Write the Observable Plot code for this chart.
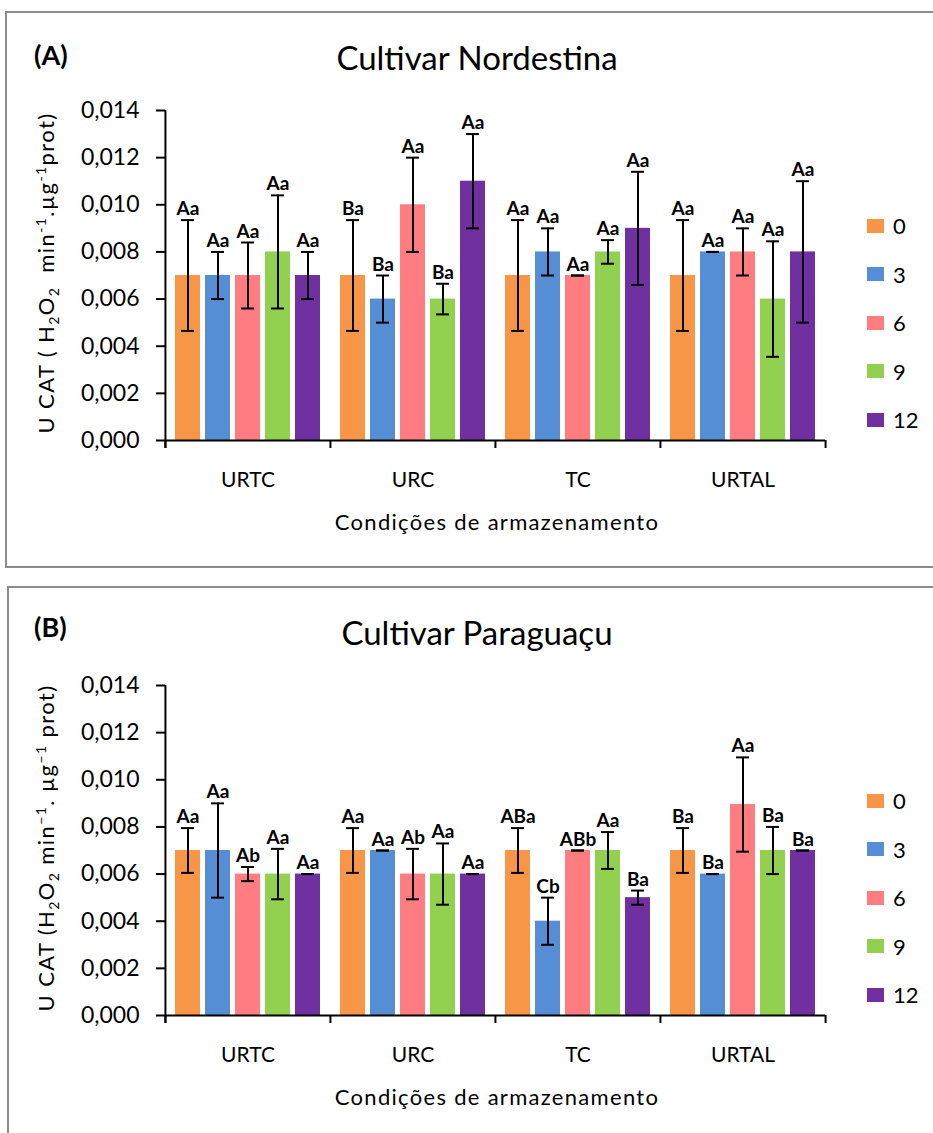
<!DOCTYPE html>
<html>
<head>
<meta charset="utf-8">
<script src="https://cdn.jsdelivr.net/npm/d3@7"></script>
<script src="https://cdn.jsdelivr.net/npm/@observablehq/plot@0.6"></script>
<style>
  html, body { margin: 0; padding: 0; background: #fff; }
  body { position: relative; width: 933px; height: 1133px; overflow: hidden; font-family: Lato, "Open Sans", sans-serif; color: #000; }
  .box { position: absolute; border: 2px solid #8c8c8c; box-sizing: border-box; }
  .abs { position: absolute; white-space: nowrap; }
  .title { font-size: 33px; transform: translate(-50%, -50%); }
  .xtitle { font-size: 22px; letter-spacing: 1.3px; transform: translate(-50%, -50%); }
  .ytitle { font-size: 22px; letter-spacing: 1.4px; transform: translate(-50%, -50%) rotate(-90deg); }
  .ytitle sub, .ytitle sup { font-size: 14px; }
  .leg { position: absolute; display: flex; align-items: center; font-size: 22px; }
  .leg span.sw { display: inline-block; width: 17px; height: 14px; margin-right: 9px; }
  .plotwrap { position: absolute; left: 0; }
</style>
</head>
<body>
<div class="box" style="left:5px; top:11px; width:1000px; height:557px;"></div>
<div class="box" style="left:7px; top:586px; width:1000px; height:600px;"></div>
<div id="root"></div>
<script>
// ---- data ----
const categories = ["URTC", "URC", "TC", "URTAL"];
const periods = ["0", "3", "6", "9", "12"];
const colors = ["#F79646", "#558ED5", "#FF7C80", "#92D050", "#7030A0"];

// Panel A – Cultivar Nordestina (values per category, in period order)
const nordMean = {
  URTC:  [0.007, 0.007, 0.007, 0.008, 0.007],
  URC:   [0.007, 0.006, 0.010, 0.006, 0.011],
  TC:    [0.007, 0.008, 0.007, 0.008, 0.009],
  URTAL: [0.007, 0.008, 0.008, 0.006, 0.008]
};
const nordErr = {
  URTC:  [0.00235, 0.001, 0.0014, 0.0024, 0.001],
  URC:   [0.00235, 0.001, 0.002, 0.00065, 0.002],
  TC:    [0.00235, 0.001, 0.0, 0.0005, 0.0024],
  URTAL: [0.00235, 0.0, 0.001, 0.00245, 0.003]
};
const nordLabels = {
  URTC:  ["Aa", "Aa", "Aa", "Aa", "Aa"],
  URC:   ["Ba", "Ba", "Aa", "Ba", "Aa"],
  TC:    ["Aa", "Aa", "Aa", "Aa", "Aa"],
  URTAL: ["Aa", "Aa", "Aa", "Aa", "Aa"]
};

// Panel B – Cultivar Paraguaçu
const paraMean = {
  URTC:  [0.007, 0.007, 0.006, 0.006, 0.006],
  URC:   [0.007, 0.007, 0.006, 0.006, 0.006],
  TC:    [0.007, 0.004, 0.007, 0.007, 0.005],
  URTAL: [0.007, 0.006, 0.00895, 0.007, 0.007]
};
const paraErr = {
  URTC:  [0.00095, 0.002, 0.0003, 0.00107, 0.0],
  URC:   [0.00095, 0.0, 0.00107, 0.0013, 0.0],
  TC:    [0.00095, 0.001, 0.0, 0.00078, 0.0003],
  URTAL: [0.00095, 0.0, 0.002, 0.001, 0.0]
};
const paraLabels = {
  URTC:  ["Aa", "Aa", "Ab", "Aa", "Aa"],
  URC:   ["Aa", "Aa", "Ab", "Aa", "Aa"],
  TC:    ["ABa", "Cb", "ABb", "Aa", "Ba"],
  URTAL: ["Ba", "Ba", "Aa", "Ba", "Ba"]
};

// ---- layout constants ----
const W = 933, H = 410, mTop = 20, mBottom = 60, mLeft = 164, mRight = 107;
const padIn = 0.18, padOut = 0.34;
const innerH = H - mTop - mBottom;
const facetW = (W - mLeft - mRight) / categories.length;
const step = facetW / (periods.length - padIn + 2 * padOut);
// distance from the centre of an edge band to the group edge
const edgeOffset = padOut * step + (1 - padIn) * step / 2;
const tickLen = 8;

function buildRows(mean, err, labels) {
  const rows = [];
  for (const c of categories) {
    periods.forEach((p, i) => {
      rows.push({cat: c, t: p, v: mean[c][i], e: err[c][i], lab: labels[c][i]});
    });
  }
  return rows;
}

function chart(rows) {
  const axisStyle = {stroke: "#000", strokeWidth: 2};
  const firstP = periods[0], lastP = periods[periods.length - 1];
  const firstC = categories[0], lastC = categories[categories.length - 1];
  return Plot.plot({
    width: W, height: H,
    marginTop: mTop, marginBottom: mBottom, marginLeft: mLeft, marginRight: mRight,
    style: {fontFamily: "Lato, 'Open Sans', sans-serif", color: "#000", background: "transparent"},
    fx: {domain: categories, padding: 0, label: null},
    x: {domain: periods, paddingInner: padIn, paddingOuter: padOut, axis: null},
    y: {domain: [0, 0.014], label: null},
    color: {domain: periods, range: colors},
    marks: [
      Plot.barY(rows, {fx: "cat", x: "t", y: "v", fill: "t"}),
      // x axis baseline
      Plot.ruleY([0], axisStyle),
      // y axis line (left edge of the first group, extending a tick below the baseline)
      Plot.ruleX(rows.filter(d => d.cat === firstC && d.t === firstP),
        {fx: "cat", x: "t", dx: -edgeOffset, insetBottom: -tickLen, ...axisStyle}),
      // category separator ticks (left edge of each group, right edge of the last)
      Plot.ruleX(rows.filter(d => d.t === firstP),
        {fx: "cat", x: "t", dx: -edgeOffset, insetTop: innerH, insetBottom: -tickLen, ...axisStyle}),
      Plot.ruleX(rows.filter(d => d.cat === lastC && d.t === lastP),
        {fx: "cat", x: "t", dx: edgeOffset, insetTop: innerH, insetBottom: -tickLen, ...axisStyle}),
      // error bars
      Plot.ruleX(rows, {fx: "cat", x: "t", y1: d => d.v - d.e, y2: d => d.v + d.e, stroke: "#000", strokeWidth: 2}),
      Plot.tickY(rows, {fx: "cat", x: "t", y: d => d.v + d.e, stroke: "#000", strokeWidth: 2, insetLeft: 6, insetRight: 6}),
      Plot.tickY(rows, {fx: "cat", x: "t", y: d => d.v - d.e, stroke: "#000", strokeWidth: 2, insetLeft: 6, insetRight: 6}),
      Plot.text(rows, {fx: "cat", x: "t", y: d => d.v + d.e, text: "lab", lineAnchor: "bottom", dy: -5, fontWeight: "bold", fontSize: 19, fill: "#000"}),
      Plot.axisY({ticks: 7, tickSize: 9, tickPadding: 17, fontSize: 23, strokeWidth: 2, label: null,
                  tickFormat: d => d.toFixed(3).replace(".", ",")}),
      Plot.axisFx({anchor: "bottom", tickSize: 0, tickPadding: 32, fontSize: 21, label: null})
    ]
  });
}

const root = document.getElementById("root");

function addEl(cls, html, left, top, extraStyle) {
  const d = document.createElement("div");
  d.className = "abs " + cls;
  d.innerHTML = html;
  d.style.left = left + "px";
  d.style.top = top + "px";
  if (extraStyle) d.style.cssText += extraStyle;
  root.appendChild(d);
  return d;
}

function panel(plotTop, tag, tagTop, title, ylabelHtml, rows) {
  const wrap = document.createElement("div");
  wrap.className = "plotwrap";
  wrap.style.top = (plotTop - mTop) + "px";
  wrap.appendChild(chart(rows));
  root.appendChild(wrap);

  addEl("", tag, 34, tagTop, "font-weight:bold;font-size:27px;");
  addEl("title", title, 477, plotTop - 53);
  addEl("xtitle", "Condições de armazenamento", 497, plotTop + 411);
  addEl("ytitle", ylabelHtml, 47, plotTop + 163);

  periods.forEach((p, i) => {
    const row = document.createElement("div");
    row.className = "leg";
    row.style.left = "867px";
    row.style.top = (plotTop + 116 + i * 48.5 - 14) + "px";
    row.innerHTML = `<span class="sw" style="background:${colors[i]}"></span><span>${p}</span>`;
    root.appendChild(row);
  });
}

panel(110, "(A)", 38, "Cultivar Nordestina",
  "U CAT ( H<sub>2</sub>O<sub>2</sub>&nbsp; min<sup>-1</sup>.µg<sup>-1</sup>prot)",
  buildRows(nordMean, nordErr, nordLabels));

panel(685, "(B)", 610, "Cultivar Paraguaçu",
  "U CAT (H<sub>2</sub>O<sub>2</sub> min<sup>−1</sup>. µg<sup>−1</sup> prot)",
  buildRows(paraMean, paraErr, paraLabels));
</script>
</body>
</html>
